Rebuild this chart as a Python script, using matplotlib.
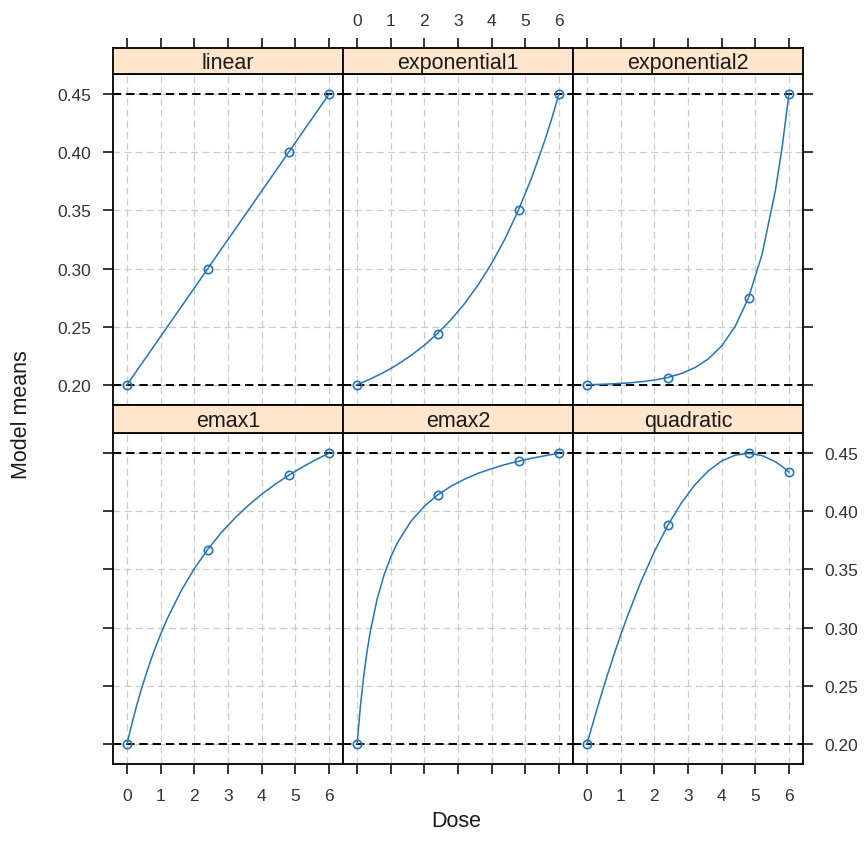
import matplotlib
matplotlib.use("Agg")
import matplotlib.pyplot as plt

plt.rcParams["font.family"] = ["Liberation Sans", "DejaVu Sans"]
plt.rcParams["lines.scale_dashes"] = False

# Doses at which the model means are marked
doses = [0, 2.4, 4.8, 6]

# Means at the marked doses
linear = [0.20, 0.30, 0.40, 0.45]
exponential1 = [0.20, 0.244, 0.350, 0.45]
exponential2 = [0.20, 0.206, 0.275, 0.45]
emax1 = [0.20, 0.367, 0.431, 0.45]
emax2 = [0.20, 0.414, 0.443, 0.45]
quadratic = [0.20, 0.388, 0.450, 0.434]

# Dose grid for the drawn curves, and curve values
curve_dose = [0, 0.1, 0.2, 0.3, 0.4, 0.6, 0.8, 1.0, 1.2, 1.6, 2.0,
              2.4, 2.8, 3.2, 3.6, 4.0, 4.4, 4.8, 5.2, 5.6, 5.8, 6.0]
linear_curve = [0.2000, 0.2042, 0.2083, 0.2125, 0.2167, 0.2250, 0.2333, 0.2417,
                0.2500, 0.2667, 0.2833, 0.3000, 0.3167, 0.3333, 0.3500, 0.3667,
                0.3833, 0.4000, 0.4167, 0.4333, 0.4417, 0.4500]
exponential1_curve = [0.2000, 0.2012, 0.2024, 0.2037, 0.2050, 0.2078, 0.2107, 0.2139,
                      0.2174, 0.2251, 0.2340, 0.2443, 0.2562, 0.2700, 0.2860, 0.3044,
                      0.3257, 0.3504, 0.3789, 0.4119, 0.4303, 0.4500]
exponential2_curve = [0.2000, 0.2001, 0.2001, 0.2002, 0.2003, 0.2005, 0.2008, 0.2011,
                      0.2014, 0.2025, 0.2040, 0.2062, 0.2096, 0.2146, 0.2221, 0.2333,
                      0.2500, 0.2748, 0.3120, 0.3673, 0.4045, 0.4500]
emax1_curve = [0.2000, 0.2123, 0.2237, 0.2345, 0.2446, 0.2631, 0.2797, 0.2945,
               0.3080, 0.3313, 0.3508, 0.3674, 0.3817, 0.3941, 0.4051, 0.4147,
               0.4233, 0.4310, 0.4380, 0.4443, 0.4472, 0.4500]
emax2_curve = [0.2000, 0.2331, 0.2592, 0.2804, 0.2978, 0.3250, 0.3452, 0.3607,
               0.3731, 0.3915, 0.4045, 0.4143, 0.4218, 0.4278, 0.4328, 0.4368,
               0.4403, 0.4432, 0.4458, 0.4480, 0.4490, 0.4500]
quadratic_curve = [0.2000, 0.2104, 0.2205, 0.2304, 0.2401, 0.2588, 0.2767, 0.2937,
                   0.3098, 0.3394, 0.3654, 0.3880, 0.4071, 0.4227, 0.4348, 0.4434,
                   0.4484, 0.4500, 0.4481, 0.4427, 0.4387, 0.4338]

model_names = ["linear", "exponential1", "exponential2", "emax1", "emax2", "quadratic"]
model_means = [linear, exponential1, exponential2, emax1, emax2, quadratic]
model_curves = [linear_curve, exponential1_curve, exponential2_curve,
                emax1_curve, emax2_curve, quadratic_curve]

x_ticks = [0, 1, 2, 3, 4, 5, 6]
y_ticks = [0.20, 0.25, 0.30, 0.35, 0.40, 0.45]
y_ticklabels = ["0.20", "0.25", "0.30", "0.35", "0.40", "0.45"]

W, H = 865, 845
fig = plt.figure(figsize=(W / 100, H / 100), dpi=100)

col_edges = [113, 343, 573, 803]
panel_top = [75, 434]
panel_bottom = [406, 765]
strip_top = [49, 406]

line_col = "#2574b8"
grid_col = "#cbcbcb"
tick_col = "#333333"
tick_size = 12.5


def frame(ax):
    for s in ax.spines.values():
        s.set_linewidth(1.3)
        s.set_color("black")


for i, name in enumerate(model_names):
    r, c = divmod(i, 3)
    x0, x1 = col_edges[c], col_edges[c + 1]
    ax = fig.add_axes([x0 / W, 1 - panel_bottom[r] / H, (x1 - x0) / W,
                       (panel_bottom[r] - panel_top[r]) / H])
    sax = fig.add_axes([x0 / W, 1 - panel_top[r] / H, (x1 - x0) / W,
                        (panel_top[r] - strip_top[r]) / H])

    ax.set_xlim(-0.42, 6.42)
    ax.set_ylim(0.1825, 0.4675)
    sax.set_xlim(-0.42, 6.42)
    sax.set_ylim(0, 1)

    # light dashed reference grid
    for xv in x_ticks:
        ax.axvline(xv, color=grid_col, lw=0.9, ls=(0, (5, 3)), zorder=1)
    for yv in y_ticks:
        ax.axhline(yv, color=grid_col, lw=0.9, ls=(0, (5, 3)), zorder=1)
    # black dashed lines at placebo and max effect
    ax.axhline(0.20, color="black", lw=1.4, ls=(0, (6, 3.5)), zorder=2)
    ax.axhline(0.45, color="black", lw=1.4, ls=(0, (6, 3.5)), zorder=2)

    ax.plot(curve_dose, model_curves[i], color=line_col, lw=1.1, zorder=3)
    ax.plot(doses, model_means[i], "o", mfc="none", mec=line_col, mew=1.2,
            ms=6, zorder=4)

    # strip
    sax.set_facecolor("#ffe5cc")
    sax.text(3.0, 0.45, name, ha="center", va="center", fontsize=15.5,
             color="#1a1a1a")
    frame(ax)
    frame(sax)

    ax.set_xticks(x_ticks)
    ax.set_yticks(y_ticks)
    ax.set_yticklabels(y_ticklabels)
    sax.set_xticks(x_ticks)
    sax.set_yticks([])

    tk = dict(direction="out", length=7.5, width=1.1, color="black",
              labelcolor=tick_col, labelsize=tick_size)
    # panel ticks: bottom on bottom row, left on col 0, right on col 2
    ax.tick_params(axis="x", top=False, labeltop=False,
                   bottom=(r == 1), labelbottom=(r == 1 and c != 1), pad=10, **tk)
    ax.tick_params(axis="y", left=(c == 0), labelleft=(c == 0 and r == 0),
                   right=(c == 2), labelright=(c == 2 and r == 1), pad=8, **tk)
    # strip ticks on top of the top row
    sax.tick_params(axis="x", bottom=False, labelbottom=False,
                    top=(r == 0), labeltop=(r == 0 and c == 1), pad=7, **tk)

fig.text(22 / W, 1 - 415 / H, "Model means", rotation=90, ha="center",
         va="center", fontsize=15.5, color="#1a1a1a")
fig.text(456 / W, 1 - 822 / H, "Dose", ha="center", va="center",
         fontsize=15.5, color="#1a1a1a")

fig.savefig("out.png", dpi=100, facecolor="white")
